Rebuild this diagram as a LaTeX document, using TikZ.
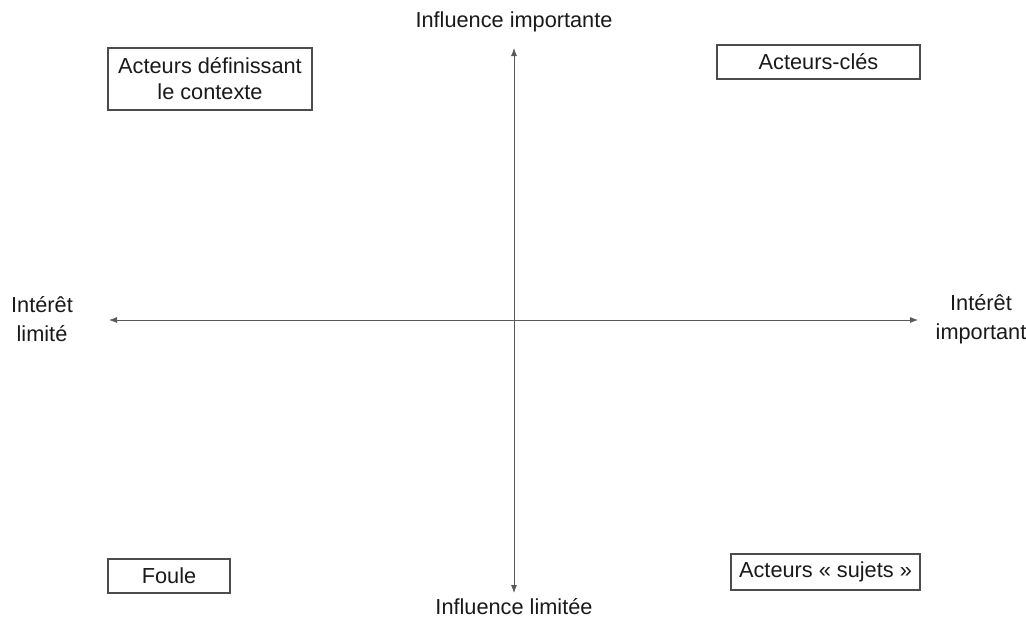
\documentclass[tikz,border=0pt]{standalone}
\usepackage{fontspec}
\setmainfont{Liberation Sans}
\usetikzlibrary{arrows.meta}
\begin{document}
\begin{tikzpicture}[x=0.75pt,y=-0.75pt,
  every node/.style={font=\fontsize{16.3}{19.5}\selectfont, text=black!90, inner sep=0pt},
  actor/.style={draw=black!70, line width=0.9pt, align=center},
  axislabel/.style={align=center, font=\fontsize{16.3}{21.5}\selectfont},
  axis/.style={draw=black!65, line width=0.6pt, {Latex[length=6pt,width=4.5pt]}-{Latex[length=6pt,width=4.5pt]}}]
\useasboundingbox (0,0) rectangle (1026,621);
\coordinate (top) at (514,48);
\coordinate (bot) at (514,593);
\coordinate (left) at (109,320);
\coordinate (right) at (918,320);
\draw[axis] (bot) -- (top);
\draw[axis] (left) -- (right);
\node[axislabel] (infimp) at (514,22) {Influence importante};
\node[axislabel] (inflim) at (514,607) {Influence limitée};
\node[axislabel] (intlim) at (42,319) {Intérêt\\limité};
\node[axislabel] (intimp) at (981,319) {Intérêt\\important};
\node[actor, minimum width=153pt, minimum height=46.5pt] (ctxbox) at (210,79) {Acteurs définissant\\le contexte};
\node[actor, minimum width=152.25pt, minimum height=25.5pt] (cles) at (818.5,62) {Acteurs-clés};
\node[actor, minimum width=91.5pt, minimum height=25.5pt] (foule) at (169,576) {Foule};
\node[actor, minimum width=141.75pt, minimum height=27pt] (sujets) at (825.5,572) {Acteurs « sujets »};
\end{tikzpicture}
\end{document}
